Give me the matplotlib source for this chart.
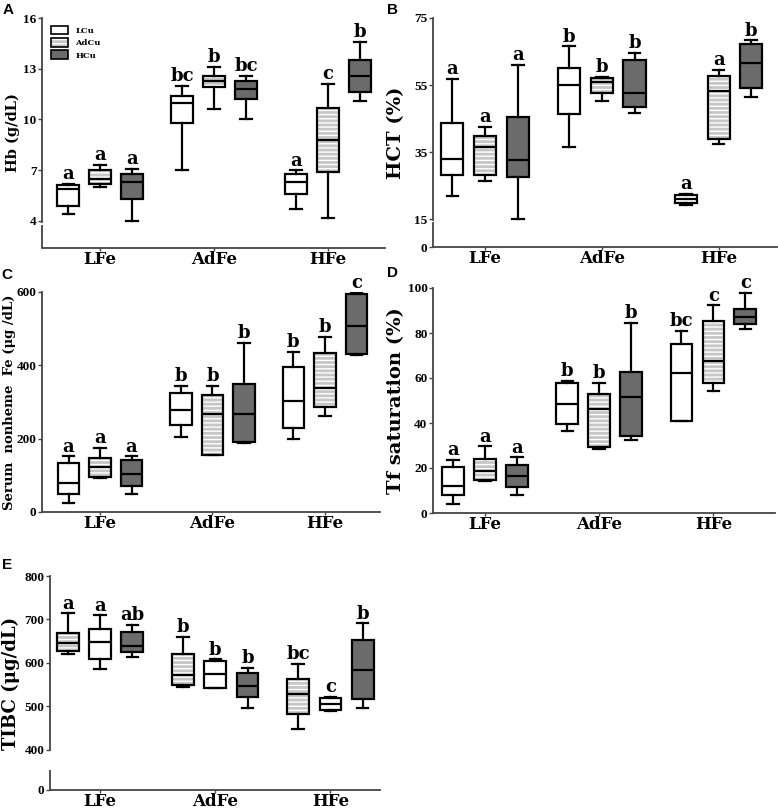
import numpy as np
import matplotlib
matplotlib.use('Agg')
import matplotlib.pyplot as plt
from matplotlib.patches import Patch, PathPatch
from matplotlib.legend_handler import HandlerTuple

plt.rcParams['font.family'] = ['DejaVu Serif']
plt.rcParams['font.weight'] = 'bold'
plt.rcParams['hatch.linewidth'] = 1.0

groups = ['LFe', 'AdFe', 'HFe']
cu_levels = ['LCu', 'AdCu', 'HCu']

# each box: [whisker low, q1, median, q3, whisker high]
# order: LFe(LCu, AdCu, HCu), AdFe(...), HFe(...)
hb_stats = [
    [4.4, 4.9, 5.9, 6.1, 6.2],
    [6.0, 6.2, 6.5, 7.0, 7.3],
    [4.0, 5.3, 6.3, 6.8, 7.1],
    [7.0, 9.8, 11.0, 11.4, 12.0],
    [10.6, 11.9, 12.3, 12.6, 13.1],
    [10.0, 11.2, 11.8, 12.3, 12.6],
    [4.7, 5.6, 6.3, 6.8, 7.0],
    [4.2, 6.9, 8.8, 10.7, 12.1],
    [11.1, 11.6, 12.6, 13.5, 14.6],
]
hb_letters = ['a', 'a', 'a', 'bc', 'b', 'bc', 'a', 'c', 'b']

hct_stats = [
    [21.8, 28.0, 32.9, 43.8, 56.8],
    [26.2, 28.0, 36.5, 39.9, 42.5],
    [15.0, 27.5, 32.7, 45.5, 61.0],
    [36.4, 46.3, 55.0, 60.0, 66.5],
    [50.3, 52.7, 56.0, 57.0, 57.5],
    [46.7, 48.5, 52.7, 62.5, 64.6],
    [19.3, 19.8, 21.0, 22.3, 22.6],
    [37.3, 38.9, 53.2, 57.8, 59.5],
    [51.5, 54.0, 61.5, 67.2, 68.3],
]
hct_letters = ['a', 'a', 'a', 'b', 'b', 'b', 'a', 'a', 'b']

fe_stats = [
    [25, 50, 80, 134, 152],
    [93, 95, 122, 148, 175],
    [49, 70, 104, 141, 152],
    [205, 238, 279, 325, 344],
    [155, 156, 266, 320, 345],
    [188, 191, 268, 350, 462],
    [200, 230, 302, 395, 436],
    [262, 286, 339, 434, 477],
    [427, 432, 506, 595, 598],
]
fe_letters = ['a', 'a', 'a', 'b', 'b', 'b', 'b', 'b', 'c']

tsat_stats = [
    [4.0, 8.1, 12.1, 20.4, 23.7],
    [14.1, 14.8, 18.8, 24.0, 29.6],
    [8.1, 11.4, 16.3, 21.3, 24.7],
    [36.4, 39.4, 48.4, 57.8, 58.8],
    [28.6, 29.2, 46.4, 53.0, 57.8],
    [32.4, 34.2, 51.6, 62.5, 84.4],
    [40.7, 40.7, 62.2, 75.1, 81.0],
    [54.4, 57.6, 67.4, 85.5, 92.3],
    [81.9, 84.0, 87.0, 90.8, 98.0],
]
tsat_letters = ['a', 'a', 'a', 'b', 'b', 'b', 'bc', 'c', 'c']

tibc_stats = [
    [621, 627, 645, 668, 714],
    [586, 609, 649, 677, 709],
    [613, 624, 638, 671, 687],
    [544, 548, 571, 620, 660],
    [541, 542, 575, 605, 608],
    [495, 520, 547, 577, 588],
    [448, 482, 527, 562, 598],
    [489, 492, 505, 518, 522],
    [495, 516, 584, 652, 691],
]
tibc_letters = ['a', 'a', 'ab', 'b', 'b', 'b', 'bc', 'c', 'b']

WHITE, STRIPE, DARK = 'white', 'striped', 'dark'
offsets = [-0.28, 0.0, 0.28]
LW = 1.6
SPINE = '#444444'
TICK_FONT = ['Liberation Serif', 'DejaVu Serif']


def fill_for(style):
    return {'white': 'white', 'striped': '#c6c6c6', 'dark': '#6b6b6b'}[style]


def draw_boxes(ax, stats, letters, styles):
    for i, s in enumerate(stats):
        g, c = divmod(i, 3)
        x = g + 1 + offsets[c]
        st = dict(whislo=s[0], q1=s[1], med=s[2], q3=s[3], whishi=s[4])
        style = styles[c]
        res = ax.bxp([st], positions=[x], widths=0.19, patch_artist=True,
                     showfliers=False, manage_ticks=False, capwidths=0.1,
                     boxprops=dict(facecolor=fill_for(style), edgecolor='black', linewidth=LW),
                     whiskerprops=dict(color='black', linewidth=LW),
                     capprops=dict(color='black', linewidth=LW),
                     medianprops=dict(color='black', linewidth=LW))
        if style == STRIPE:
            box = res['boxes'][0]
            box.set_facecolor('none')
            ax.add_patch(PathPatch(box.get_path(), transform=box.get_transform(),
                                   facecolor=fill_for(style), edgecolor='white',
                                   hatch='----', linewidth=0, zorder=1.9))
        ax.annotate(letters[i], xy=(x, s[4]), xytext=(0, 0.5), textcoords='offset points',
                    ha='center', va='bottom', fontsize=13, fontweight='bold')


def setup_axis(ax, xlim, ylim, yticks, ylabel, lab_size, lab_x,
               brk=None, k=1.0, upper_low=None, lower_top=None):
    if brk is not None:
        fwd = lambda y: np.where(y >= brk, y, brk - (brk - y) * k)
        inv = lambda y: np.where(y >= brk, y, brk - (brk - y) / k)
        ax.set_yscale('function', functions=(fwd, inv))
    ax.set_xlim(*xlim)
    ax.set_ylim(*ylim)
    ax.set_yticks(yticks)
    ax.set_yticklabels([str(t) for t in yticks], family=TICK_FONT, fontsize=9.5,
                       fontweight='bold')
    ax.yaxis.set_minor_locator(matplotlib.ticker.NullLocator())
    ax.set_xticks([1, 2, 3])
    ax.set_xticklabels(groups, fontsize=12, fontweight='bold')
    ax.tick_params(axis='y', length=3, width=1, color=SPINE, pad=1)
    ax.tick_params(axis='x', length=2, width=1, color=SPINE, pad=0.5)
    for side in ['top', 'right']:
        ax.spines[side].set_visible(False)
    for side in ['left', 'bottom']:
        ax.spines[side].set_color(SPINE)
        ax.spines[side].set_linewidth(1.3)
    if upper_low is not None:
        ax.spines['left'].set_bounds(upper_low, ylim[1])
        ax.plot([0, 0], [ylim[0], lower_top], transform=ax.get_yaxis_transform(),
                color=SPINE, lw=1.3, clip_on=False, solid_capstyle='butt')
    ax.set_ylabel(ylabel, fontsize=lab_size, fontweight='bold')
    ax.yaxis.set_label_coords(lab_x, 0.5)


W, H = 778, 810
fig = plt.figure(figsize=(W / 100, H / 100), dpi=100)


def add_axes(left, right, top, bottom):
    return fig.add_axes([left / W, 1 - bottom / H, (right - left) / W, (bottom - top) / H])


axA = add_axes(42, 385, 18, 248)
axB = add_axes(433, 777, 18, 247)
axC = add_axes(42, 380, 292, 512)
axD = add_axes(433, 775, 288, 513)
axE = add_axes(50, 380, 576, 790)

normal_styles = [WHITE, STRIPE, DARK]
tibc_styles = [STRIPE, WHITE, DARK]

draw_boxes(axA, hb_stats, hb_letters, normal_styles)
setup_axis(axA, (0.49, 3.5), (0, 16), [4, 7, 10, 13, 16], 'Hb (g/dL)', 10.5, -0.064,
           brk=4, k=0.4, upper_low=3.85, lower_top=3.4)

draw_boxes(axB, hct_stats, hct_letters, normal_styles)
setup_axis(axB, (0.554, 3.5), (0, 75), [0, 15, 35, 55, 75], 'HCT (%)', 14, -0.081,
           brk=15, k=0.557, upper_low=14.6, lower_top=13.3)

draw_boxes(axC, fe_stats, fe_letters, normal_styles)
setup_axis(axC, (0.484, 3.49), (0, 600), [0, 200, 400, 600],
           'Serum  nonheme  Fe (\u03bcg /dL)', 9.5, -0.078)

draw_boxes(axD, tsat_stats, tsat_letters, normal_styles)
setup_axis(axD, (0.544, 3.54), (0, 100), [0, 20, 40, 60, 80, 100],
           'Tf saturation (%)', 14, -0.082)

draw_boxes(axE, tibc_stats, tibc_letters, tibc_styles)
setup_axis(axE, (0.565, 3.43), (0, 800), [0, 400, 500, 600, 700, 800],
           'TIBC (\u03bcg/dL)', 13, -0.091,
           brk=400, k=0.233, upper_low=397, lower_top=195)

# legend in panel A
h_lcu = Patch(facecolor='white', edgecolor='black', linewidth=1.2)
h_adcu = (Patch(facecolor=fill_for(STRIPE), edgecolor='white', hatch='----', linewidth=0),
          Patch(facecolor='none', edgecolor='black', linewidth=1.2))
h_hcu = Patch(facecolor=fill_for(DARK), edgecolor='black', linewidth=1.2)
axA.legend([h_lcu, h_adcu, h_hcu], cu_levels, loc='upper left',
           bbox_to_anchor=(0.015, 0.985), frameon=False, fontsize=6,
           handlelength=2.0, handleheight=1.2, labelspacing=0.4, handletextpad=0.9,
           borderpad=0, handler_map={tuple: HandlerTuple(ndivide=1, pad=0)})

for lab, (px, py) in zip('ABCDE', [(8, 10), (392, 10), (7, 275), (392, 273), (7, 565)]):
    fig.text(px / W, 1 - py / H, lab, fontsize=11, fontweight='bold',
             family=['Liberation Sans', 'DejaVu Sans'], ha='center', va='center')

fig.savefig('out.png', dpi=100)
